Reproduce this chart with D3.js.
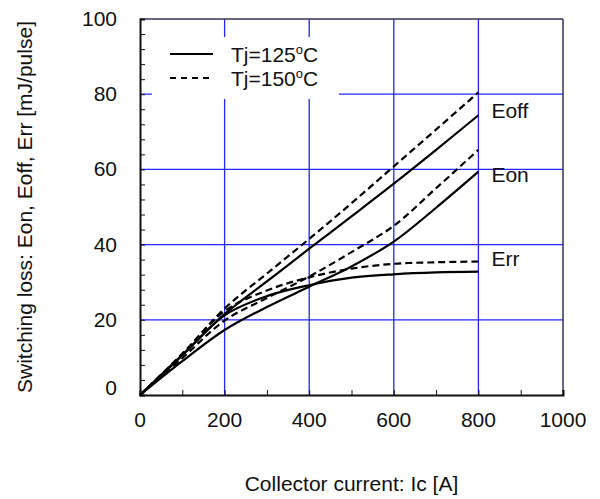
<!DOCTYPE html>
<html>
<head>
<meta charset="utf-8">
<script src="https://cdn.jsdelivr.net/npm/d3@7"></script>
<style>
  body { margin: 0; background: #fff; }
  text { font-family: "Liberation Sans", Arial, sans-serif; fill: #111; }
</style>
</head>
<body>
<div id="chart"></div>
<script>
// collector current [A]
const current = [0, 100, 200, 300, 400, 500, 600, 700, 800];

// switching loss [mJ/pulse]
const eoff125 = [0, 10.7, 21.5, 30.2, 38.9, 47.5, 56.2, 65.2, 74.4];
const eoff150 = [0, 11.0, 23.0, 32.3, 41.5, 51.0, 60.8, 70.6, 80.5];
const eon125 = [0, 9.0, 17.3, 23.4, 28.8, 34.2, 40.8, 49.8, 59.4];
const eon150 = [0, 9.8, 19.8, 25.8, 31.5, 38.0, 45.0, 55.0, 65.2];
const err125 = [0, 10.5, 21.2, 26.3, 29.2, 31.2, 32.1, 32.6, 32.8];
const err150 = [0, 10.8, 22.3, 27.8, 31.3, 33.6, 34.9, 35.3, 35.5];

const xTicks = [0, 200, 400, 600, 800, 1000];
const yTicks = [0, 20, 40, 60, 80, 100];
const curveNames = ["Eoff", "Eon", "Err"];
const legendLabels = ["125", "150"];

const width = 600;
const height = 499;
const margin = { top: 19, right: 37, bottom: 104, left: 140 };
const fontSize = 21;

const svg = d3.select("#chart")
    .append("svg")
    .attr("width", width)
    .attr("height", height);

const x = d3.scaleLinear()
    .domain([0, 1000])
    .range([margin.left, width - margin.right]);

const y = d3.scaleLinear()
    .domain([0, 100])
    .range([height - margin.bottom, margin.top]);

// blue grid
svg.append("g")
    .selectAll("line")
    .data(xTicks.slice(1, -1))
    .join("line")
    .attr("x1", d => x(d)).attr("x2", d => x(d))
    .attr("y1", y(0)).attr("y2", y(100))
    .attr("stroke", "#2626ff")
    .attr("stroke-width", 1.3);

svg.append("g")
    .selectAll("line")
    .data(yTicks.slice(1, -1))
    .join("line")
    .attr("x1", x(0)).attr("x2", x(1000))
    .attr("y1", d => y(d)).attr("y2", d => y(d))
    .attr("stroke", "#2626ff")
    .attr("stroke-width", 1.3);

// legend box hides the grid behind it
svg.append("rect")
    .attr("x", 152).attr("y", 37)
    .attr("width", 187).attr("height", 62)
    .attr("fill", "#fff");

// frame: top and right in dark navy
svg.append("line")
    .attr("x1", x(0)).attr("x2", x(1000))
    .attr("y1", y(100)).attr("y2", y(100))
    .attr("stroke", "#33335a").attr("stroke-width", 1.5);
svg.append("line")
    .attr("x1", x(1000)).attr("x2", x(1000))
    .attr("y1", y(0)).attr("y2", y(100))
    .attr("stroke", "#33335a").attr("stroke-width", 1.5);

// inner ticks
const xAxis = d3.axisTop(x)
    .tickValues(d3.range(0, 1001, 100))
    .tickSize(5)
    .tickFormat("");
const yAxis = d3.axisRight(y)
    .tickValues(d3.range(0, 101, 4))
    .tickSize(5)
    .tickFormat("");

svg.append("g")
    .attr("transform", `translate(0, ${y(0)})`)
    .call(xAxis)
    .call(g => g.select(".domain").attr("stroke-width", 2).attr("stroke", "#111"))
    .call(g => g.selectAll(".tick line").attr("stroke", "#111"));

svg.append("g")
    .attr("transform", `translate(${x(0)}, 0)`)
    .call(yAxis)
    .call(g => g.select(".domain").attr("stroke-width", 2).attr("stroke", "#111"))
    .call(g => g.selectAll(".tick line").attr("stroke", "#111"));

// tick labels
svg.append("g")
    .selectAll("text")
    .data(xTicks)
    .join("text")
    .attr("x", d => x(d))
    .attr("y", 427)
    .attr("text-anchor", "middle")
    .attr("font-size", fontSize)
    .text(d => d);

svg.append("g")
    .selectAll("text")
    .data(yTicks)
    .join("text")
    .attr("x", 117)
    .attr("y", d => y(d) + (d === 0 ? 0 : 7))
    .attr("text-anchor", "end")
    .attr("font-size", fontSize)
    .text(d => d);

// axis titles
svg.append("text")
    .attr("x", (x(0) + x(1000)) / 2)
    .attr("y", 491)
    .attr("text-anchor", "middle")
    .attr("font-size", fontSize)
    .text("Collector current: Ic [A]");

svg.append("text")
    .attr("transform", `translate(32, ${(y(0) + y(100)) / 2}) rotate(-90)`)
    .attr("text-anchor", "middle")
    .attr("font-size", fontSize)
    .text("Switching loss: Eon, Eoff, Err [mJ/pulse]");

// curves
const line = d3.line()
    .x((d, i) => x(current[i]))
    .y(d => y(d))
    .curve(d3.curveCatmullRom.alpha(0.5));

const series = [
    { values: eoff125, dash: null },
    { values: eoff150, dash: "7,4" },
    { values: eon125, dash: null },
    { values: eon150, dash: "7,4" },
    { values: err125, dash: null },
    { values: err150, dash: "7,4" }
];

svg.append("g")
    .selectAll("path")
    .data(series)
    .join("path")
    .attr("fill", "none")
    .attr("stroke", "#000")
    .attr("stroke-width", 2.2)
    .attr("stroke-dasharray", d => d.dash)
    .attr("d", d => line(d.values));

// curve names, next to the 800 A ends
const nameY = [(eoff125[8] + eoff150[8]) / 2, (eon125[8] + eon150[8]) / 2 - 2, err150[8] + 2.5];
svg.append("g")
    .selectAll("text")
    .data(curveNames)
    .join("text")
    .attr("x", x(800) + 13)
    .attr("y", (d, i) => y(nameY[i]) + 14)
    .attr("font-size", fontSize)
    .text(d => d);

// legend
const legend = svg.append("g");
legendLabels.forEach((t, i) => {
    const ly = 54 + i * 24;
    legend.append("line")
        .attr("x1", 170).attr("x2", 213)
        .attr("y1", ly).attr("y2", ly)
        .attr("stroke", "#000")
        .attr("stroke-width", 2)
        .attr("stroke-dasharray", i === 0 ? null : "6,5");
    const txt = legend.append("text")
        .attr("x", 231)
        .attr("y", ly + 8)
        .attr("font-size", fontSize);
    txt.append("tspan").text("Tj=" + t);
    txt.append("tspan").attr("font-size", 13).attr("dy", -8).text("o");
    txt.append("tspan").attr("dy", 8).text("C");
});
</script>
</body>
</html>
